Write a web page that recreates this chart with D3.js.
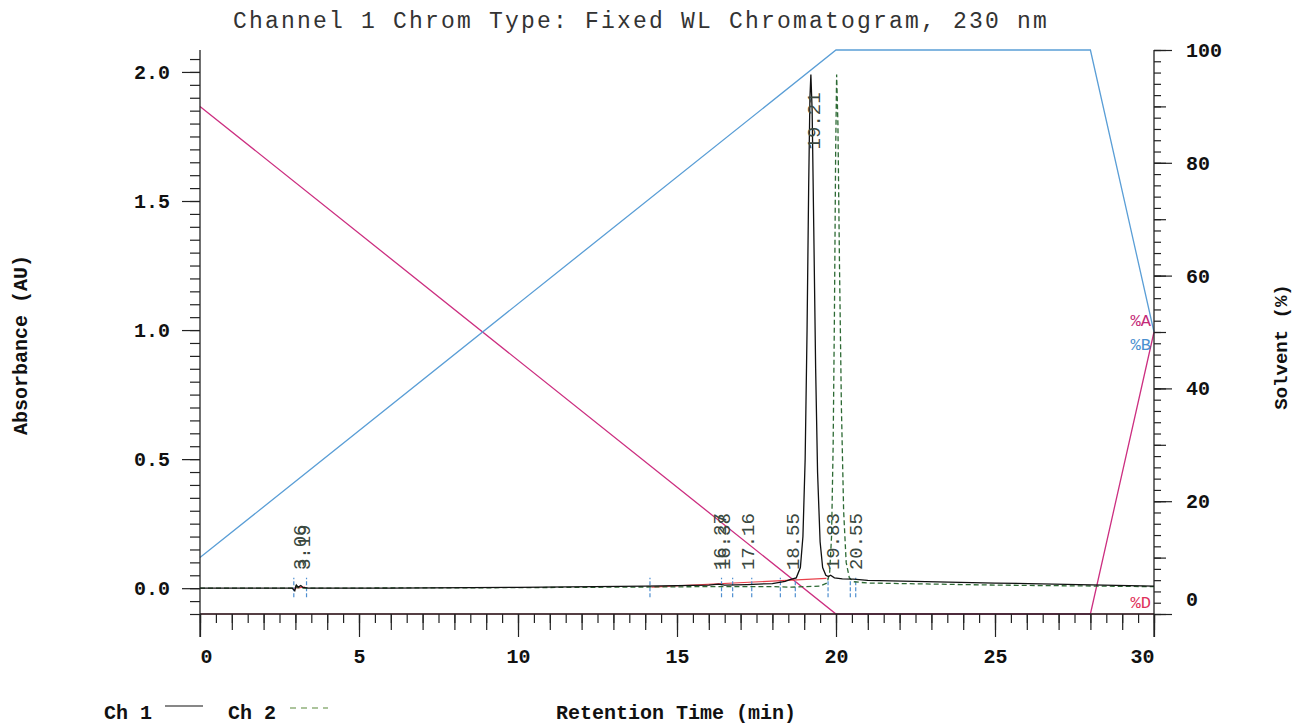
<!DOCTYPE html>
<meta charset="utf-8">
<title>Channel 1 Chromatogram</title>
<style>
  body { margin: 0; background: #fff; }
  svg text { font-family: "Liberation Mono", "DejaVu Sans Mono", monospace; }
</style>
<div id="viz"></div>
<script src="https://cdnjs.cloudflare.com/ajax/libs/d3/7.8.5/d3.min.js"></script>
<script>

var width = 1303;
var height = 725;

var timeTicks = [0, 5, 10, 15, 20, 25, 30];
var absTicks = [0.0, 0.5, 1.0, 1.5, 2.0];
var solventTicks = [0, 20, 40, 60, 80, 100];

// gradient program, %
var gradTime = [0, 20, 28, 30];
var pctA = [90, 0, 0, 50];
var pctB = [10, 100, 100, 50];
var pctD = [0, 0, 0, 0];

// traces: [min, AU]
var ch1 = [[0, 0.0], [2.9, 0.0], [2.98, -0.01], [3.03, 0.012], [3.09, 0.004], [3.17, 0.01], [3.24, 0.003],
  [3.4, 0.0], [6, 0.0], [10, 0.003], [14, 0.008], [16, 0.012], [16.3, 0.016], [16.5, 0.012],
  [17.2, 0.014], [18, 0.018], [18.4, 0.026], [18.55, 0.033], [18.75, 0.04], [18.88, 0.08],
  [18.96, 0.2], [19.03, 0.5], [19.09, 1.0], [19.14, 1.55], [19.18, 1.9], [19.21, 1.99],
  [19.25, 1.85], [19.3, 1.4], [19.36, 0.85], [19.42, 0.45], [19.5, 0.18], [19.58, 0.08],
  [19.68, 0.05], [19.76, 0.045], [19.83, 0.05], [19.95, 0.04], [20.2, 0.036], [20.55, 0.035],
  [21, 0.03], [25, 0.02], [30, 0.008]];
var ch2 = [[0, 0.0], [2.95, 0.0], [3.0, 0.008], [3.06, 0.002], [3.3, 0.0], [10, 0.002],
  [16, 0.006], [18, 0.006], [18.6, 0.004], [19.5, 0.008], [19.72, 0.02], [19.8, 0.06],
  [19.86, 0.2], [19.91, 0.55], [19.95, 1.05], [19.99, 1.7], [20.02, 1.99], [20.06, 1.8],
  [20.11, 1.25], [20.17, 0.7], [20.24, 0.3], [20.32, 0.1], [20.42, 0.04], [20.55, 0.025],
  [21, 0.02], [25, 0.012], [30, 0.006]];
var intBaseline = [[[2.95, 0.0], [3.3, 0.004]], [[14.2, 0.004], [19.7, 0.038]]];
var markerTimes = [2.95, 3.35, 14.15, 16.4, 16.75, 17.35, 18.25, 18.72, 19.75, 20.45, 20.62];

var peakTimes = [3.06, 3.19, 16.27, 16.38, 17.16, 18.55, 19.21, 19.83, 20.55];
var peakHeights = [0.01, 0.01, 0.015, 0.015, 0.014, 0.033, 1.99, 0.05, 0.035];

var x = d3.scaleLinear().domain([0, 30]).range([200, 1154]);
var yAbs = d3.scaleLinear().domain([-0.1, 2.085]).range([614, 50]);
var ySol = d3.scaleLinear().domain([0, 100]).range([614, 50]);

var svg = d3.select("#viz").append("svg")
  .attr("width", width)
  .attr("height", height);

var trace = d3.line().x(d => x(d[0])).y(d => yAbs(d[1]));
var grad = function(vals) {
  return d3.line().x((d, i) => x(gradTime[i])).y(d => ySol(d))(vals);
};

// solvent program
svg.append("path").attr("d", grad(pctD)).attr("fill", "none")
  .attr("stroke", "#e0305a").attr("stroke-width", 1.2);
svg.append("path").attr("d", grad(pctA)).attr("fill", "none")
  .attr("stroke", "#cc2f80").attr("stroke-width", 1.3);
svg.append("path").attr("d", grad(pctB)).attr("fill", "none")
  .attr("stroke", "#5a9ed6").attr("stroke-width", 1.3);

// axes
var ax = svg.append("g").attr("stroke", "#222").attr("stroke-width", 1.3);
ax.append("line").attr("x1", 200).attr("x2", 200).attr("y1", 50).attr("y2", 637);
ax.append("line").attr("x1", 1154).attr("x2", 1154).attr("y1", 50).attr("y2", 637);
ax.append("line").attr("x1", 200).attr("x2", 1154).attr("y1", 614).attr("y2", 614);

function tickAxis(axis, vals, size, labels) {
  var a = axis.tickValues(vals).tickSize(size).tickSizeOuter(0);
  if (!labels) a.tickFormat("");
  return a;
}

function drawAxis(tr, axis) {
  var g = svg.append("g").attr("transform", tr).call(axis);
  g.select(".domain").remove();
  g.selectAll(".tick line").attr("stroke", "#222").attr("stroke-width", 1.2);
  g.selectAll("text").attr("font-family", "Liberation Mono, monospace")
    .attr("font-weight", "bold").attr("font-size", 20).attr("fill", "#111");
  return g;
}

// left: absorbance
drawAxis("translate(200,0)", tickAxis(d3.axisLeft(yAbs), d3.range(-0.1, 2.07, 0.05), 10, false));
drawAxis("translate(200,0)", tickAxis(d3.axisLeft(yAbs), absTicks, 18, true)
  .tickFormat(d3.format(".1f")).tickPadding(12));

// right: solvent
drawAxis("translate(1154,0)", tickAxis(d3.axisRight(ySol), d3.range(0, 101, 2), 7, false));
drawAxis("translate(1154,0)", tickAxis(d3.axisRight(ySol), d3.range(0, 101, 10), 12, false));
var rAx = drawAxis("translate(1154,0)", tickAxis(d3.axisRight(ySol), solventTicks, 18, true).tickPadding(14));
rAx.selectAll(".tick").filter(d => d === 0).select("text").attr("dy", "-0.45em");

// bottom: time
drawAxis("translate(0,614)", tickAxis(d3.axisBottom(x), d3.range(0, 30.1, 0.5), 9, false));
drawAxis("translate(0,614)", tickAxis(d3.axisBottom(x), d3.range(0, 31, 1), 16, false));
var bAx = drawAxis("translate(0,614)", tickAxis(d3.axisBottom(x), timeTicks, 23, true).tickPadding(12));
bAx.selectAll(".tick").filter(d => d === 0).select("text").attr("text-anchor", "start");
bAx.selectAll(".tick").filter(d => d === 30).select("text").attr("text-anchor", "end");

// integration baselines and event marks
intBaseline.forEach(function(seg) {
  svg.append("path").attr("d", trace(seg)).attr("fill", "none")
    .attr("stroke", "#e8404a").attr("stroke-width", 1.2);
});
svg.selectAll(".mark").data(markerTimes).enter().append("line")
  .attr("x1", d => x(d)).attr("x2", d => x(d))
  .attr("y1", yAbs(-0.035)).attr("y2", yAbs(0.04))
  .attr("stroke", "#4f8fd0").attr("stroke-width", 1.2).attr("stroke-dasharray", "4,2");

// traces
svg.append("path").attr("d", trace(ch2)).attr("fill", "none")
  .attr("stroke", "#2d6a34").attr("stroke-width", 1.3).attr("stroke-dasharray", "5,3");
svg.append("path").attr("d", trace(ch1)).attr("fill", "none")
  .attr("stroke", "#111").attr("stroke-width", 1.3);

// peak labels
svg.selectAll(".plab").data(peakTimes).enter().append("text")
  .attr("transform", function(d, i) {
    var yy = peakHeights[i] > 1 ? yAbs(1.7) : yAbs(0.07);
    return "translate(" + (x(d) + 2) + "," + yy + ") rotate(-90)";
  })
  .attr("dy", "0.35em")
  .attr("font-size", 19)
  .attr("fill", "#3a4840")
  .text(d => d.toFixed(2));

// solvent labels
var solLab = [["%A", pctA, "#c42a78", -12], ["%B", pctB, "#4a90d0", 12], ["%D", pctD, "#e0305a", -12]];
solLab.forEach(function(s) {
  svg.append("text")
    .attr("x", 1151).attr("y", ySol(s[1][s[1].length - 1]) + s[3])
    .attr("dy", "0.35em").attr("text-anchor", "end")
    .attr("font-size", 17).attr("fill", s[2]).text(s[0]);
});

// titles
svg.append("text").attr("x", 641).attr("y", 28).attr("text-anchor", "middle")
  .attr("font-size", 23).attr("letter-spacing", 2.2).attr("fill", "#333")
  .text("Channel 1 Chrom Type: Fixed WL Chromatogram, 230 nm");

svg.append("text").attr("transform", "translate(27,345) rotate(-90)")
  .attr("text-anchor", "middle").attr("font-size", 20).attr("font-weight", "bold")
  .attr("fill", "#111").text("Absorbance (AU)");
svg.append("text").attr("transform", "translate(1287,347) rotate(-90)")
  .attr("text-anchor", "middle").attr("font-size", 19).attr("font-weight", "bold")
  .attr("fill", "#111").text("Solvent (%)");
svg.append("text").attr("x", 676).attr("y", 719).attr("text-anchor", "middle")
  .attr("font-size", 20).attr("font-weight", "bold").attr("fill", "#111")
  .text("Retention Time (min)");

// legend
svg.append("text").attr("x", 104).attr("y", 719).attr("font-size", 20)
  .attr("font-weight", "bold").attr("fill", "#111").text("Ch 1");
svg.append("line").attr("x1", 165).attr("x2", 203).attr("y1", 706).attr("y2", 706)
  .attr("stroke", "#111").attr("stroke-width", 1.2);
svg.append("text").attr("x", 228).attr("y", 719).attr("font-size", 20)
  .attr("font-weight", "bold").attr("fill", "#111").text("Ch 2");
svg.append("line").attr("x1", 290).attr("x2", 328).attr("y1", 708).attr("y2", 708)
  .attr("stroke", "#5a8a3a").attr("stroke-width", 1.2).attr("stroke-dasharray", "6,5");

</script>
